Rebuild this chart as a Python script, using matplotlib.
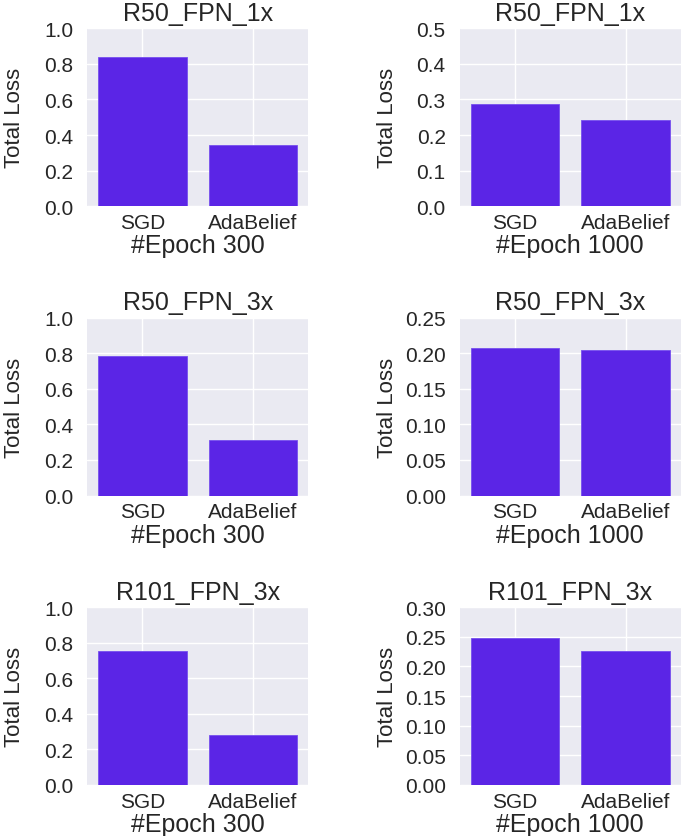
import matplotlib
matplotlib.use("Agg")
import matplotlib.pyplot as plt
import numpy as np

# data
optimizers = ["SGD", "AdaBelief"]
titles = ["R50_FPN_1x", "R50_FPN_1x", "R50_FPN_3x", "R50_FPN_3x", "R101_FPN_3x", "R101_FPN_3x"]
epoch_labels = ["#Epoch 300", "#Epoch 1000"] * 3
r50_1x_e300 = [0.84, 0.342]
r50_1x_e1000 = [0.288, 0.242]
r50_3x_e300 = [0.783, 0.313]
r50_3x_e1000 = [0.207, 0.204]
r101_3x_e300 = [0.754, 0.279]
r101_3x_e1000 = [0.248, 0.226]
ylims = [1.0, 0.5, 1.0, 0.25, 1.0, 0.30]
yticks_step = [0.2, 0.1, 0.2, 0.05, 0.2, 0.05]

plt.style.use("seaborn-v0_8-darkgrid")
plt.rcParams["font.family"] = ["Liberation Sans", "DejaVu Sans"]
plt.rcParams["text.color"] = "#262626"
plt.rcParams["axes.labelcolor"] = "#262626"
plt.rcParams["xtick.color"] = "#262626"
plt.rcParams["ytick.color"] = "#262626"

all_losses = [r50_1x_e300, r50_1x_e1000, r50_3x_e300, r50_3x_e1000, r101_3x_e300, r101_3x_e1000]
bar_color = "#5b25e6"

fig, axes = plt.subplots(3, 2, figsize=(6.85, 8.37), dpi=100)
fig.subplots_adjust(left=0.127, right=0.994, bottom=0.061, top=0.965, wspace=0.683, hspace=0.627)

for i, ax in enumerate(axes.flat):
    ax.bar(optimizers, all_losses[i], width=0.8, color=bar_color, edgecolor="#7650ee", linewidth=0.6)
    ax.set_ylim(0, ylims[i])
    ax.set_yticks(np.arange(0, ylims[i] + 1e-9, yticks_step[i]))
    if yticks_step[i] < 0.1:
        ax.set_yticklabels(["%.2f" % t for t in ax.get_yticks()])
    else:
        ax.set_yticklabels(["%.1f" % t for t in ax.get_yticks()])
    ax.set_xlim(-0.5, 1.5)
    ax.set_title(titles[i], fontsize=18, pad=6)
    ax.set_xlabel(epoch_labels[i], fontsize=18, labelpad=1)
    ax.set_ylabel("Total Loss", fontsize=16)
    ax.yaxis.set_label_coords(-0.28, 0.5)
    ax.tick_params(axis="y", labelsize=15, pad=10, length=0)
    ax.tick_params(axis="x", labelsize=15, pad=5, length=0)
    ax.grid(True, color="white", linewidth=1.0)
    ax.set_axisbelow(True)

fig.savefig("out.png", dpi=100)
